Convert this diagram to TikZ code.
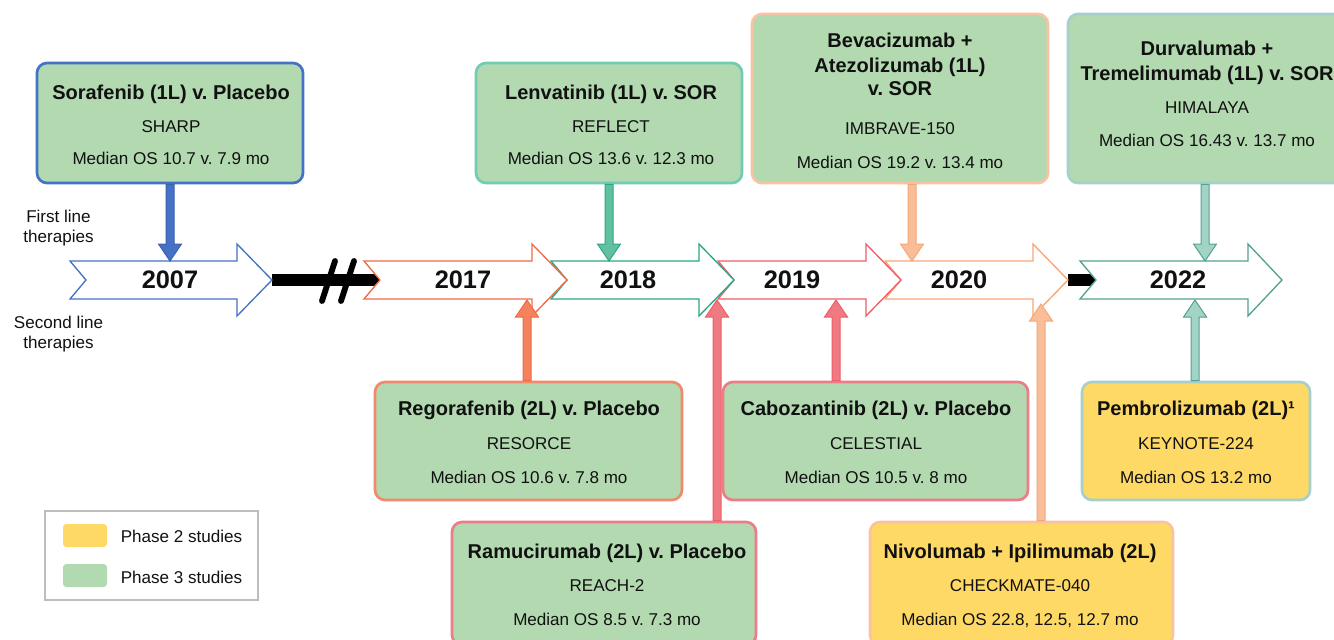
\documentclass[tikz,border=0pt]{standalone}
\usepackage{fontspec}
\setmainfont{Liberation Sans}
\usetikzlibrary{arrows.meta,calc,fit}

% palette
\definecolor{boxgreen}{HTML}{B2D9B0}
\definecolor{boxyellow}{HTML}{FFD966}
\definecolor{cblue}{HTML}{4472C4}
\definecolor{cbluedk}{HTML}{3A62AE}
\definecolor{cteal}{HTML}{72CBB3}
\definecolor{ctealfill}{HTML}{5FC0A2}
\definecolor{ctealdk}{HTML}{2BA883}
\definecolor{cpeach}{HTML}{F8C2A3}
\definecolor{cpeachfill}{HTML}{F9BE98}
\definecolor{cpeachdk}{HTML}{F6A776}
\definecolor{corange}{HTML}{F08A6C}
\definecolor{corangefill}{HTML}{F4835C}
\definecolor{corangedk}{HTML}{F06A45}
\definecolor{cpink}{HTML}{EC7C88}
\definecolor{cpinkfill}{HTML}{F07A82}
\definecolor{cpinkdk}{HTML}{EE5D6B}
\definecolor{csage}{HTML}{A6D0CB}
\definecolor{csagefill}{HTML}{A3D3C5}
\definecolor{csagedk}{HTML}{53A291}
\definecolor{legendgray}{HTML}{BDBDBD}
\definecolor{ink}{HTML}{111111}

% chevron for one year on the timeline: left x, head start x, tip x, colour
\newcommand{\yearchevron}[4]{%
  \filldraw[fill=white, draw=#4, line width=1pt, line join=miter]
    (#1,261) -- (#2,261) -- (#2,244) -- (#3,280) -- (#2,316) -- (#2,299)
    -- (#1,299) -- ({#1+16},280) -- cycle;}

% block arrow from a card down to the timeline: card anchor, tip, fill, stroke
\newcommand{\blockdown}[4]{%
  \path (#2 |- #1) coordinate (bs);
  \filldraw[fill=#3, draw=#4, line width=0.75pt, line join=miter]
    ($(bs)+(-4,0)$) -- ($(#2)+(-4,-17)$) -- ($(#2)+(-11.5,-17)$) -- (#2)
    -- ($(#2)+(11.5,-17)$) -- ($(#2)+(4,-17)$) -- ($(bs)+(4,0)$) -- cycle;}

% block arrow from a card up to the timeline
\newcommand{\blockup}[4]{%
  \path (#2 |- #1) coordinate (bs);
  \filldraw[fill=#3, draw=#4, line width=0.75pt, line join=miter]
    ($(bs)+(-4,0)$) -- ($(#2)+(-4,17)$) -- ($(#2)+(-11.5,17)$) -- (#2)
    -- ($(#2)+(11.5,17)$) -- ($(#2)+(4,17)$) -- ($(bs)+(4,0)$) -- cycle;}

\tikzset{
  card/.style={rounded corners=7.5pt, line width=2pt, inner sep=0pt},
  ph3/.style={card, fill=boxgreen},
  ph2/.style={card, fill=boxyellow},
  ttl/.style={anchor=base, text=ink, inner sep=0pt, font=\bfseries\fontsize{15}{18}\selectfont},
  txt/.style={anchor=base, text=ink, inner sep=0pt, font=\fontsize{12.8}{15}\selectfont},
  yr/.style={anchor=base, text=ink, inner sep=0pt, font=\bfseries\fontsize{19}{22}\selectfont},
  bar/.style={line width=9pt, -{Triangle[length=4.5pt,width=9pt]}},
  swatch/.style={rounded corners=2.5pt, inner sep=0pt},
}

\begin{document}
\frenchspacing
\begin{tikzpicture}[x=0.75pt, y=-0.75pt]
\useasboundingbox (0,0) rectangle (1334,639);
\fill[white] (0,0) rectangle (1334,639);
\clip (0,0) rectangle (1334,639);

% ---- timeline anchors ----
\coordinate (tip2007) at (272,280);
\coordinate (notch2017) at (380,280);
\coordinate (tip2020) at (1068,280);
\coordinate (notch2022) at (1096,280);

% ---- black connecting bars with break mark ----
\draw[bar] (tip2007) -- (notch2017);
\draw[line width=4.4pt, line cap=round] (335,261) -- (322,301);
\draw[line width=4.4pt, line cap=round] (354,261) -- (341,301);
\draw[bar] (tip2020) -- (notch2022);

% ---- year chevrons (later years first, so earlier heads overlap) ----
\yearchevron{70}{237}{272}{cblue}
\yearchevron{885}{1033}{1068}{cpeachdk}
\yearchevron{718}{866}{901}{cpinkdk}
\yearchevron{551}{699}{734}{ctealdk}
\yearchevron{364}{532}{567}{corangedk}
\yearchevron{1080}{1248}{1282}{csagedk}

\node[yr] (y2007) at (170,288) {2007};
\node[yr] (y2017) at (463,288) {2017};
\node[yr] (y2018) at (628,288) {2018};
\node[yr] (y2019) at (792,288) {2019};
\node[yr] (y2020) at (959,288) {2020};
\node[yr] (y2022) at (1178,288) {2022};

% ---- side labels ----
\node[txt] (fl1) at (58.5,222) {First line};
\node[txt] (fl2) at (58.5,242) {therapies};
\node[txt] (sl1) at (58.5,328) {Second line};
\node[txt] (sl2) at (58.5,348) {therapies};

% ---- study cards: first line (above) ----
\node[ph3, draw=cblue, fit={(37,63) (303,183)}] (sor) {};
\node[ttl] at (171,99) {Sorafenib (1L) v. Placebo};
\node[txt] at (171,132) {SHARP};
\node[txt] at (171,164) {Median OS 10.7 v. 7.9 mo};

\node[ph3, draw=cteal, fit={(476,63) (742,183)}] (len) {};
\node[ttl] at (611,99) {Lenvatinib (1L) v. SOR};
\node[txt] at (611,132) {REFLECT};
\node[txt] at (611,164) {Median OS 13.6 v. 12.3 mo};

\node[ph3, draw=cpeach, fit={(752,14) (1048,183)}] (bev) {};
\node[ttl] at (900,47) {Bevacizumab +};
\node[ttl] at (900,72) {Atezolizumab (1L)};
\node[ttl] at (900,95) {v. SOR};
\node[txt] at (900,134) {IMBRAVE-150};
\node[txt] at (900,168) {Median OS 19.2 v. 13.4 mo};

\node[ph3, draw=csage, fit={(1068,14) (1347,183)}] (dur) {};
\node[ttl] at (1207,55) {Durvalumab +};
\node[ttl] at (1207,80) {Tremelimumab (1L) v. SOR};
\node[txt] at (1207,113) {HIMALAYA};
\node[txt] at (1207,146) {Median OS 16.43 v. 13.7 mo};

% ---- study cards: second line (below) ----
\node[ph3, draw=corange, fit={(375,382) (682,500)}] (reg) {};
\node[ttl] at (529,415) {Regorafenib (2L) v. Placebo};
\node[txt] at (529,449) {RESORCE};
\node[txt] at (529,483) {Median OS 10.6 v. 7.8 mo};

\node[ph3, draw=cpink, fit={(723,382) (1028,500)}] (cab) {};
\node[ttl] at (876,415) {Cabozantinib (2L) v. Placebo};
\node[txt] at (876,449) {CELESTIAL};
\node[txt] at (876,483) {Median OS 10.5 v. 8 mo};

\node[ph2, draw=csage, fit={(1082,382) (1310,500)}] (pem) {};
\node[ttl] at (1196,415) {Pembrolizumab (2L)¹};
\node[txt] at (1196,449) {KEYNOTE-224};
\node[txt] at (1196,483) {Median OS 13.2 mo};

\node[ph3, draw=cpink, fit={(452,522) (756,645)}] (ram) {};
\node[ttl] at (607,558) {Ramucirumab (2L) v. Placebo};
\node[txt] at (607,591) {REACH-2};
\node[txt] at (607,625) {Median OS 8.5 v. 7.3 mo};

\node[ph2, draw=cpeach, fit={(870,522) (1173,645)}] (niv) {};
\node[ttl] at (1020,558) {Nivolumab + Ipilimumab (2L)};
\node[txt] at (1020,591) {CHECKMATE-040};
\node[txt] at (1020,625) {Median OS 22.8, 12.5, 12.7 mo};

% ---- connectors from cards to the timeline ----
\coordinate (inSor) at (170,261);
\coordinate (inLen) at (609,261);
\coordinate (inBev) at (912,261);
\coordinate (inDur) at (1205,261);
\coordinate (inReg) at (527,300);
\coordinate (inRam) at (717,300);
\coordinate (inCab) at (836,300);
\coordinate (inNiv) at (1041,304);
\coordinate (inPem) at (1195,300);

\blockdown{sor.south}{inSor}{cblue}{cbluedk}
\blockdown{len.south}{inLen}{ctealfill}{ctealdk}
\blockdown{bev.south}{inBev}{cpeachfill}{cpeachdk}
\blockdown{dur.south}{inDur}{csagefill}{csagedk}
\blockup{reg.north}{inReg}{corangefill}{corangedk}
\blockup{ram.north}{inRam}{cpinkfill}{cpinkdk}
\blockup{cab.north}{inCab}{cpinkfill}{cpinkdk}
\blockup{niv.north}{inNiv}{cpeachfill}{cpeachdk}
\blockup{pem.north}{inPem}{csagefill}{csagedk}

% ---- legend ----
\node[draw=legendgray, line width=0.8pt, inner sep=0pt, fit={(45,511) (258,600)}] (legend) {};
\node[swatch, fill=boxyellow, fit={(63,524) (107,547)}] (sw2) {};
\node[swatch, fill=boxgreen, fit={(63,564) (107,587)}] (sw3) {};
\node[txt, anchor=base west] at (120.5,542) {Phase 2 studies};
\node[txt, anchor=base west] at (120.5,583) {Phase 3 studies};
\end{tikzpicture}
\end{document}
